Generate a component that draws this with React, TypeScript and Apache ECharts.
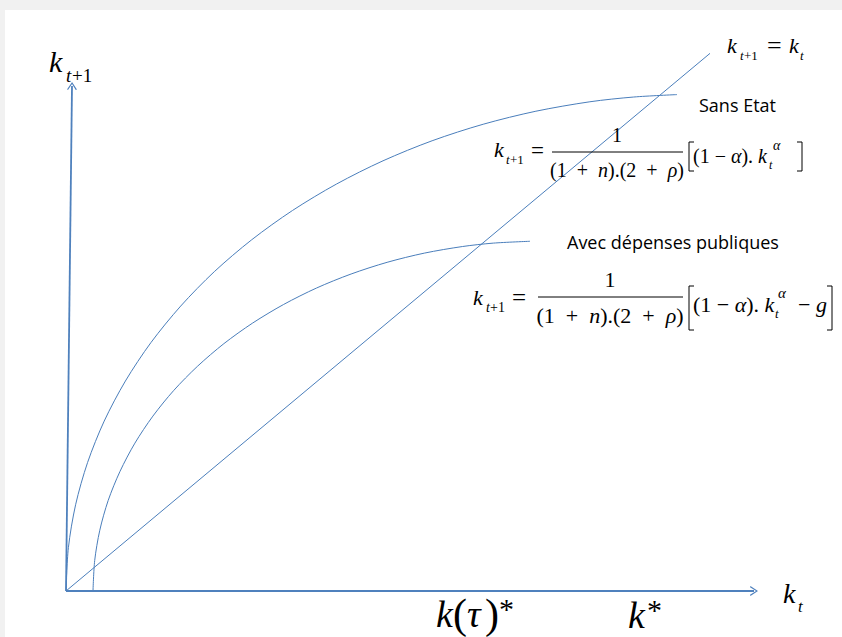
import React, { useEffect, useRef } from 'react';
import * as echarts from 'echarts';

// Capital per worker today (k_t) and next period (k_{t+1}), model units.
const kSansEtat = [0, 0.024, 0.096, 0.216, 0.382, 0.594, 0.849, 1.147, 1.483, 1.857, 2.265, 2.704, 3.17, 3.661, 4.172, 4.699, 5.239, 5.677, 6.11];
const kNextSansEtat = [0, 0.519, 1.033, 1.54, 2.035, 2.515, 2.975, 3.413, 3.825, 4.207, 4.558, 4.874, 5.153, 5.393, 5.591, 5.747, 5.86, 5.917, 5.946];

const kAvecDepenses = [0.27, 0.287, 0.338, 0.422, 0.54, 0.689, 0.869, 1.078, 1.316, 1.579, 1.867, 2.176, 2.505, 2.851, 3.211, 3.583, 3.964, 4.273, 4.64];
const kNextAvecDepenses = [0, 0.365, 0.728, 1.085, 1.433, 1.771, 2.095, 2.403, 2.693, 2.963, 3.21, 3.432, 3.629, 3.797, 3.937, 4.047, 4.126, 4.167, 4.189];

// 45-degree line k_{t+1} = k_t
const kDiagonal = [0, 6.44];

// Axis extents (k_t axis end, k_{t+1} axis end)
const xAxisEnd = [6.88, 0];
const yAxisEnd = [0.06, 6.05];

const BLUE = '#4a7ebb';
const AXIS_BLUE = '#4f81bd';
const SERIF = '"Liberation Serif", "Times New Roman", serif';
const SANS = '"Open Sans", "Noto Sans", sans-serif';
const CHEVRON = 'path://M0,10 L5,0 L10,10 L8.8,10.6 L5,2.6 L1.2,10.6 Z';
const EN = '\u2002';

function pairs(xs: number[], ys: number[]) {
  return xs.map((x, i) => [x, ys[i]]);
}

function txt(text: string, x: number, base: number, size: number, italic = false, align = 'left', family = SERIF) {
  const k = family === SANS ? 0.39 : 0.34;
  return {
    type: 'text',
    x,
    y: base - k * size,
    z: 10,
    silent: true,
    style: {
      text,
      font: `${italic ? 'italic ' : ''}${size}px ${family}`,
      fill: '#000',
      align,
      verticalAlign: 'middle',
    },
  };
}

function bracket(x: number, y1: number, y2: number, dir: number) {
  // dir = 1 opening bracket, -1 closing bracket
  const w = 5 * dir;
  return {
    type: 'polyline',
    z: 10,
    silent: true,
    shape: { points: [[x + w, y1], [x, y1], [x, y2], [x + w, y2]] },
    style: { stroke: '#000', lineWidth: 1, fill: 'none' },
  };
}

function hbar(x1: number, x2: number, y: number) {
  return {
    type: 'line',
    z: 10,
    silent: true,
    shape: { x1, y1: y, x2, y2: y },
    style: { stroke: '#000', lineWidth: 1 },
  };
}

function richText(text: string, x: number, base: number, size: number, align: string) {
  const f = `${size}px ${SERIF}`;
  const fi = `italic ${size}px ${SERIF}`;
  return {
    type: 'text',
    x,
    y: base - 0.34 * size,
    z: 10,
    silent: true,
    style: {
      text,
      font: f,
      fill: '#000',
      align,
      verticalAlign: 'middle',
      rich: { i: { font: fi, fill: '#000' } },
    },
  };
}

const denominator = `(1${EN}+${EN}{i|n}).(2${EN}+${EN}{i|ρ})`;
const factor = '(1 − {i|α}). {i|k}';

export default function App() {
  const ref = useRef<HTMLDivElement>(null);

  useEffect(() => {
    document.body.style.margin = '0';
    if (!ref.current) return;
    const chart = echarts.init(ref.current, undefined, { renderer: 'svg' });

    const graphic: any[] = [
      { type: 'rect', z: -10, silent: true, shape: { x: 5, y: 10, width: 837, height: 627 }, style: { fill: '#ffffff' } },

      // y-axis title
      txt('k', 49, 72, 30, true),
      txt('t', 66, 82, 19, true),
      txt('+1', 72, 82, 19),

      // x-axis title
      txt('k', 783, 603, 28, true),
      txt('t', 798, 612, 17, true),

      // 45-degree line label
      txt('k', 727, 53, 22, true),
      txt('t', 740, 60, 13, true),
      txt('+1', 744, 60, 13),
      txt('=', 767, 54, 26),
      txt('k', 789, 53, 22, true),
      txt('t', 800, 60, 13, true),

      // Sans Etat
      txt('Sans Etat', 699, 112, 18, false, 'left', SANS),
      txt('k', 494, 157, 22, true),
      txt('t', 506, 164, 13, true),
      txt('+1', 510, 164, 13),
      txt('=', 531, 158, 23),
      txt('1', 617, 142, 20, false, 'center'),
      hbar(552, 683, 152),
      richText(denominator, 617, 177, 20, 'center'),
      bracket(689, 142, 171, 1),
      richText(factor, 693, 163, 20, 'left'),
      txt('t', 769, 169, 12, true),
      txt('α', 773, 150, 14, true),
      bracket(802, 142, 171, -1),

      // Avec dépenses publiques
      txt('Avec dépenses publiques', 567, 249, 18, false, 'left', SANS),
      txt('k', 473, 305, 22, true),
      txt('t', 486, 312, 14, true),
      txt('+1', 490, 312, 14),
      txt('=', 512, 306, 25),
      txt('1', 610, 287, 22, false, 'center'),
      hbar(538, 683, 297),
      richText(denominator, 610, 323, 22, 'center'),
      bracket(689, 286, 330, 1),
      richText(factor, 693, 312, 22, 'left'),
      txt('t', 775, 318, 13, true),
      txt('α', 778, 298, 15, true),
      txt('−', 798, 312, 22),
      txt('g', 816, 312, 22, true),
      bracket(832, 286, 330, -1),

      // equilibrium labels under the k_t axis
      txt('k', 436, 627, 38, true),
      txt('(', 453, 628, 42),
      txt('τ', 467, 627, 38, true),
      txt(')', 485, 628, 42),
      txt('*', 499, 619, 30),
      txt('k', 628, 628, 38, true),
      txt('*', 647, 620, 30),
    ];

    chart.setOption({
      animation: false,
      backgroundColor: '#f1f1f1',
      grid: { left: 66, top: 40, width: 700, height: 551, containLabel: false },
      xAxis: { type: 'value', min: 0, max: 7, show: false },
      yAxis: { type: 'value', min: 0, max: 6.6, show: false },
      graphic,
      series: [
        {
          name: 'Sans Etat',
          type: 'line',
          data: pairs(kSansEtat, kNextSansEtat),
          smooth: 0.3,
          symbol: 'none',
          lineStyle: { color: BLUE, width: 1 },
          silent: true,
        },
        {
          name: 'Avec dépenses publiques',
          type: 'line',
          data: pairs(kAvecDepenses, kNextAvecDepenses),
          smooth: 0.3,
          symbol: 'none',
          lineStyle: { color: BLUE, width: 1 },
          silent: true,
        },
        {
          name: 'k_{t+1} = k_t',
          type: 'line',
          data: pairs(kDiagonal, kDiagonal),
          symbol: 'none',
          lineStyle: { color: BLUE, width: 1 },
          silent: true,
          markLine: {
            silent: true,
            symbol: ['none', CHEVRON],
            symbolSize: [10, 8],
            label: { show: false },
            lineStyle: { color: AXIS_BLUE, width: 1.8, type: 'solid' },
            emphasis: { disabled: true },
            data: [
              [{ coord: [0, 0] }, { coord: xAxisEnd }],
              [{ coord: [0, 0] }, { coord: yAxisEnd }],
            ],
          },
        },
      ],
    });

    return () => chart.dispose();
  }, []);

  return <div ref={ref} style={{ width: 842, height: 637 }} />;
}
